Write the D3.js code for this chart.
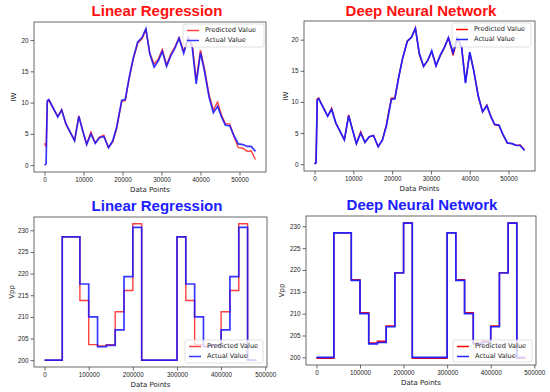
<!DOCTYPE html>
<html>
<head>
<meta charset="utf-8">
<script src="https://cdn.jsdelivr.net/npm/d3@7"></script>
<style>
  body { margin: 0; background: #fff; }
  svg { display: block; font-family: "DejaVu Sans", sans-serif; }
  .title { font-family: "Liberation Sans", Arial, sans-serif; font-weight: bold; font-size: 15px; }
  .tick text { font-size: 6.3px; fill: #222; }
  .axis-label { font-size: 7px; fill: #222; }
  .legend text { font-size: 6.6px; fill: #222; }
</style>
</head>
<body>
<div id="chart"></div>
<script>
// IW series (top row)
const iwX = [0, 400, 700, 1100, 2100, 3400, 4400, 5500, 7700, 8800, 9800, 10800, 11900, 13000, 14100, 15200,
  16400, 17500, 18500, 19800, 20700, 21700, 22700, 23900, 25000, 26000, 27000, 28100, 29200, 30200, 31300,
  32400, 33500, 34500, 35700, 36800, 37900, 38900, 40000, 41000, 42200, 43300, 44400, 45400, 46400, 47500,
  48600, 49700, 50900, 52000, 53000, 54100];
const iwActual = [0, 0.2, 10.3, 10.5, 9.3, 7.7, 8.8, 6.6, 3.9, 7.8, 5.5, 3.3, 5.0, 3.5, 4.4, 4.6,
  2.8, 3.9, 6.1, 10.4, 10.5, 14.0, 17.0, 19.7, 20.4, 21.8, 17.8, 15.7, 16.7, 18.2, 15.8,
  17.5, 18.8, 20.3, 17.9, 20.3, 18.8, 13.0, 18.0, 15.1, 10.9, 8.4, 9.4, 7.7, 6.4, 6.3,
  4.7, 3.4, 3.3, 3.0, 3.0, 2.2];
const iwPredLR = [3.5, 2.9, 10.0, 10.4, 9.2, 7.8, 8.9, 6.5, 4.0, 7.9, 5.4, 3.4, 5.3, 3.6, 4.5, 4.8,
  2.8, 3.7, 5.8, 10.2, 10.3, 13.8, 16.8, 19.5, 20.2, 21.6, 17.9, 16.2, 17.0, 18.5, 16.0,
  17.8, 19.0, 20.4, 18.2, 20.5, 19.2, 13.6, 18.4, 15.5, 11.3, 8.8, 10.1, 8.0, 6.6, 6.6,
  4.6, 2.8, 2.7, 2.2, 2.3, 0.9];
const iwPredDNN = [0.1, 0.3, 10.5, 10.6, 9.3, 7.7, 9.0, 6.6, 3.9, 7.9, 5.5, 3.3, 5.2, 3.5, 4.4, 4.6,
  2.8, 3.9, 6.3, 10.6, 10.6, 14.0, 17.0, 19.8, 20.4, 21.9, 17.6, 15.7, 16.7, 18.1, 15.8,
  17.4, 18.8, 20.3, 17.5, 20.3, 18.8, 13.2, 17.9, 15.1, 10.9, 8.4, 9.5, 7.7, 6.3, 6.2,
  4.7, 3.4, 3.3, 3.0, 3.1, 2.3];

// Vpp series (bottom row), step starts
const vppX = [0, 40000, 80000, 100000, 120000, 140000, 160000, 180000, 200000, 220000,
  300000, 320000, 340000, 360000, 380000, 400000, 420000, 440000, 460000, 480000];
const vppActual = [200, 228.5, 217.6, 210, 203.1, 203.4, 207, 219.3, 230.7, 200,
  228.5, 217.6, 210, 203.1, 203.4, 207, 219.3, 230.7, 200, 200];
const vppPredLR = [200, 228.5, 213.8, 203.6, 203.3, 203.6, 211.2, 216.1, 231.5, 200,
  228.5, 213.8, 203.6, 203.3, 203.6, 211.2, 216.1, 231.5, 200, 200];
const vppPredDNN = [199.8, 228.5, 217.8, 210.2, 203.3, 203.7, 207.2, 219.4, 230.8, 199.8,
  228.5, 217.8, 210.2, 203.3, 203.7, 207.2, 219.4, 230.8, 199.8, 199.8];

const iwXTicks = [0, 10000, 20000, 30000, 40000, 50000];
const iwYTicks = [0, 5, 10, 15, 20];
const vppXTicks = [0, 100000, 200000, 300000, 400000, 500000];
const vppYTicks = [200, 205, 210, 215, 220, 225, 230];

const legendLabels = ["Predicted Value", "Actual Value"];

const svg = d3.select("#chart")
  .append("svg")
  .attr("width", 550)
  .attr("height", 392);

const panels = [
  { box: [34, 22, 266, 172], title: "Linear Regression", titleColor: "#ff1010", titleX: 157, titleY: 16,
    x: iwX, pred: iwPredLR, act: iwActual, xTicks: iwXTicks, yTicks: iwYTicks, yLabel: "IW", yLabelX: 14,
    step: false, legend: [183, 24, 81, 23], lr: true },
  { box: [304, 21, 535, 171], title: "Deep Neural Network", titleColor: "#ff1010", titleX: 421, titleY: 16,
    x: iwX, pred: iwPredDNN, act: iwActual, xTicks: iwXTicks, yTicks: iwYTicks, yLabel: "IW", yLabelX: 286,
    step: false, legend: [452, 23, 79, 24], lr: false },
  { box: [34, 217, 267, 367], title: "Linear Regression", titleColor: "#2020ff", titleX: 157, titleY: 211,
    x: vppX, pred: vppPredLR, act: vppActual, xTicks: vppXTicks, yTicks: vppYTicks, yLabel: "Vpp", yLabelX: 12,
    step: true, legend: [185, 340, 78, 23], lr: true },
  { box: [306, 216, 536, 365], title: "Deep Neural Network", titleColor: "#2020ff", titleX: 422, titleY: 210,
    x: vppX, pred: vppPredDNN, act: vppActual, xTicks: vppXTicks, yTicks: vppYTicks, yLabel: "Vpp", yLabelX: 282,
    step: true, legend: [453, 340, 79, 22], lr: false }
];

function padded(vals) {
  const [lo, hi] = d3.extent(vals);
  const pad = (hi - lo) * 0.05;
  return [lo - pad, hi + pad];
}

panels.forEach(p => {
  const [x0, y0, x1, y1] = p.box;
  const g = svg.append("g");

  const xScale = d3.scaleLinear().domain(padded(p.x)).range([x0, x1]);
  const yScale = d3.scaleLinear().domain(padded(p.pred.concat(p.act))).range([y1, y0]);

  const line = d3.line()
    .x((d, i) => xScale(p.x[i]))
    .y(d => yScale(d))
    .curve(p.step ? d3.curveStepAfter : d3.curveLinear);

  const redC = p.lr ? "rgba(255,0,0,0.75)" : "#ff0000";
  const blueC = p.lr ? "rgba(20,20,255,0.85)" : "#2222ff";

  g.append("path").datum(p.pred)
    .attr("d", line).attr("fill", "none")
    .attr("stroke", redC).attr("stroke-width", 1.4);
  g.append("path").datum(p.act)
    .attr("d", line).attr("fill", "none")
    .attr("stroke", blueC).attr("stroke-width", 1.7);

  // frame
  g.append("rect")
    .attr("x", x0).attr("y", y0)
    .attr("width", x1 - x0).attr("height", y1 - y0)
    .attr("fill", "none").attr("stroke", "#444").attr("stroke-width", 0.8);

  const xAxis = g.append("g")
    .attr("transform", `translate(0,${y1})`)
    .call(d3.axisBottom(xScale).tickValues(p.xTicks).tickFormat(d3.format("d")).tickSize(3.5).tickPadding(2));
  const yAxis = g.append("g")
    .attr("transform", `translate(${x0},0)`)
    .call(d3.axisLeft(yScale).tickValues(p.yTicks).tickFormat(d3.format("d")).tickSize(3.5).tickPadding(2));
  [xAxis, yAxis].forEach(a => {
    a.select(".domain").remove();
    a.selectAll(".tick line").attr("stroke", "#444").attr("stroke-width", 0.8);
  });

  g.append("text")
    .attr("class", "axis-label")
    .attr("x", (x0 + x1) / 2)
    .attr("y", y1 + 20)
    .attr("text-anchor", "middle")
    .text("Data Points");

  g.append("text")
    .attr("class", "axis-label")
    .attr("transform", `translate(${p.yLabelX},${(y0 + y1) / 2}) rotate(-90)`)
    .attr("text-anchor", "middle")
    .attr("dominant-baseline", "middle")
    .text(p.yLabel);

  g.append("text")
    .attr("class", "title")
    .attr("x", p.titleX)
    .attr("y", p.titleY)
    .attr("text-anchor", "middle")
    .attr("fill", p.titleColor)
    .text(p.title);

  // legend
  const [lx, ly, lw, lh] = p.legend;
  const leg = g.append("g").attr("class", "legend");
  leg.append("rect")
    .attr("x", lx).attr("y", ly).attr("width", lw).attr("height", lh)
    .attr("rx", 2)
    .attr("fill", "rgba(255,255,255,0.8)")
    .attr("stroke", "#ccc").attr("stroke-width", 0.6);
  legendLabels.forEach((label, i) => {
    const yy = ly + 6.5 + i * 10;
    leg.append("line")
      .attr("x1", lx + 4).attr("x2", lx + 16)
      .attr("y1", yy).attr("y2", yy)
      .attr("stroke", i === 0 ? redC : blueC)
      .attr("stroke-width", 1.5);
    leg.append("text")
      .attr("x", lx + 22).attr("y", yy)
      .attr("dominant-baseline", "middle")
      .text(label);
  });
});
</script>
</body>
</html>
